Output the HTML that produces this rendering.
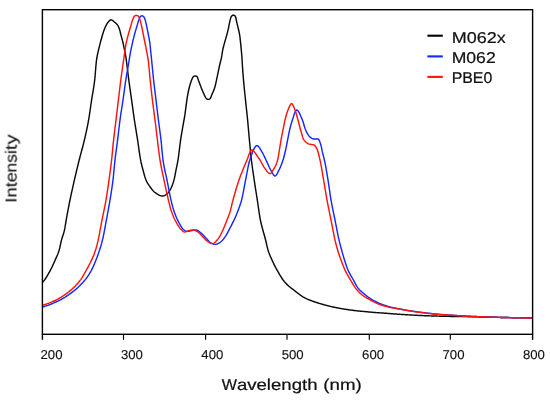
<!DOCTYPE html>
<html><head><meta charset="utf-8"><title>Spectrum</title>
<style>
html,body{margin:0;padding:0;background:#fff;}
body{width:550px;height:400px;overflow:hidden;font-family:"Liberation Sans",sans-serif;}
</style></head><body>
<svg width="550" height="400" viewBox="0 0 550 400" style="display:block;will-change:transform">
<rect width="550" height="400" fill="#fff"/>
<defs><clipPath id="c"><rect x="42.40" y="9.70" width="490.20" height="324.60"/></clipPath></defs>
<g clip-path="url(#c)" fill="none" stroke-width="1.45" stroke-linejoin="round" stroke-linecap="butt">
<path d="M42.40,282.40 L42.90,281.88 L43.40,281.34 L43.90,280.76 L44.40,280.13 L44.90,279.46 L45.40,278.75 L45.90,278.01 L46.40,277.23 L46.90,276.42 L47.40,275.59 L47.90,274.73 L48.40,273.86 L48.90,272.96 L49.40,272.05 L49.90,271.12 L50.40,270.19 L50.90,269.24 L51.40,268.26 L51.90,267.24 L52.40,266.21 L52.90,265.14 L53.40,264.06 L53.90,262.95 L54.40,261.83 L54.90,260.69 L55.40,259.54 L55.90,258.42 L56.40,257.31 L56.90,256.17 L57.40,255.00 L57.90,253.75 L58.40,252.41 L58.90,250.95 L59.40,249.30 L59.90,247.25 L60.40,244.92 L60.90,242.55 L61.40,240.39 L61.90,238.58 L62.40,236.99 L62.90,235.51 L63.40,234.00 L63.90,232.35 L64.40,230.43 L64.90,227.98 L65.40,224.94 L65.90,221.77 L66.40,218.88 L66.90,216.12 L67.40,213.40 L67.90,210.72 L68.40,208.09 L68.90,205.51 L69.40,202.97 L69.90,200.49 L70.40,198.06 L70.90,195.69 L71.40,193.36 L71.90,191.06 L72.40,188.81 L72.90,186.58 L73.40,184.37 L73.90,182.18 L74.40,180.00 L74.90,177.84 L75.40,175.69 L75.90,173.57 L76.40,171.46 L76.90,169.38 L77.40,167.31 L77.90,165.26 L78.40,163.22 L78.90,161.20 L79.40,159.21 L79.90,157.26 L80.40,155.36 L80.90,153.50 L81.40,151.65 L81.90,149.80 L82.40,147.94 L82.90,146.04 L83.40,144.10 L83.90,142.09 L84.40,140.00 L84.90,137.85 L85.40,135.68 L85.90,133.45 L86.40,131.17 L86.90,128.81 L87.40,126.35 L87.90,123.79 L88.40,121.11 L88.90,118.25 L89.40,115.11 L89.90,111.74 L90.40,108.26 L90.90,104.75 L91.40,101.33 L91.90,98.09 L92.40,95.08 L92.90,92.17 L93.40,89.19 L93.90,85.99 L94.40,82.40 L94.90,78.14 L95.40,72.29 L95.90,65.99 L96.40,60.78 L96.90,57.54 L97.40,55.01 L97.90,52.66 L98.40,50.47 L98.90,48.39 L99.40,46.38 L99.90,44.40 L100.40,42.43 L100.90,40.54 L101.40,38.71 L101.90,36.94 L102.40,35.19 L102.90,33.53 L103.40,32.00 L103.90,30.59 L104.40,29.24 L104.90,27.98 L105.40,26.83 L105.90,25.80 L106.40,24.85 L106.90,23.97 L107.40,23.19 L107.90,22.52 L108.40,21.93 L108.90,21.33 L109.40,20.77 L109.90,20.30 L110.40,19.96 L110.90,19.80 L111.40,19.85 L111.90,20.05 L112.40,20.35 L112.90,20.73 L113.40,21.14 L113.90,21.56 L114.40,21.95 L114.90,22.34 L115.40,22.75 L115.90,23.19 L116.40,23.68 L116.90,24.23 L117.40,24.84 L117.90,25.55 L118.40,26.48 L118.90,27.65 L119.40,29.01 L119.90,30.64 L120.40,32.73 L120.90,34.78 L121.40,36.64 L121.90,38.48 L122.40,40.40 L122.90,42.45 L123.40,44.59 L123.90,46.87 L124.40,49.33 L124.90,51.89 L125.40,54.39 L125.90,57.24 L126.40,60.72 L126.90,64.55 L127.40,68.62 L127.90,72.79 L128.40,76.88 L128.90,80.75 L129.40,84.44 L129.90,88.02 L130.40,91.55 L130.90,95.05 L131.40,98.58 L131.90,102.16 L132.40,105.79 L132.90,109.44 L133.40,113.05 L133.90,116.59 L134.40,120.00 L134.90,123.26 L135.40,126.41 L135.90,129.48 L136.40,132.52 L136.90,135.59 L137.40,138.72 L137.90,141.99 L138.40,145.49 L138.90,149.08 L139.40,152.62 L139.90,155.96 L140.40,158.94 L140.90,161.48 L141.40,163.74 L141.90,165.81 L142.40,167.75 L142.90,169.63 L143.40,171.50 L143.90,173.37 L144.40,175.19 L144.90,176.90 L145.40,178.44 L145.90,179.77 L146.40,180.88 L146.90,181.88 L147.40,182.79 L147.90,183.62 L148.40,184.40 L148.90,185.14 L149.40,185.86 L149.90,186.57 L150.40,187.27 L150.90,187.97 L151.40,188.65 L151.90,189.31 L152.40,189.94 L152.90,190.53 L153.40,191.08 L153.90,191.59 L154.40,192.04 L154.90,192.43 L155.40,192.78 L155.90,193.12 L156.40,193.46 L156.90,193.80 L157.40,194.12 L157.90,194.43 L158.40,194.72 L158.90,194.99 L159.40,195.24 L159.90,195.46 L160.40,195.64 L160.90,195.79 L161.40,195.91 L161.90,195.98 L162.40,196.00 L162.90,195.97 L163.40,195.87 L163.90,195.72 L164.40,195.53 L164.90,195.29 L165.40,195.02 L165.90,194.72 L166.40,194.40 L166.90,194.07 L167.40,193.68 L167.90,193.16 L168.40,192.53 L168.90,191.80 L169.40,191.01 L169.90,190.17 L170.40,189.29 L170.90,188.33 L171.40,187.27 L171.90,186.12 L172.40,184.86 L172.90,183.48 L173.40,181.98 L173.90,180.34 L174.40,178.39 L174.90,175.92 L175.40,173.19 L175.90,170.51 L176.40,168.06 L176.90,165.72 L177.40,163.30 L177.90,160.59 L178.40,157.35 L178.90,153.53 L179.40,149.39 L179.90,145.25 L180.40,141.39 L180.90,138.03 L181.40,134.89 L181.90,131.91 L182.40,129.04 L182.90,126.22 L183.40,123.42 L183.90,120.58 L184.40,117.77 L184.90,114.69 L185.40,111.07 L185.90,107.20 L186.40,103.39 L186.90,99.94 L187.40,96.72 L187.90,93.76 L188.40,91.24 L188.90,89.01 L189.40,86.97 L189.90,85.14 L190.40,83.48 L190.90,81.94 L191.40,80.52 L191.90,79.25 L192.40,78.20 L192.90,77.26 L193.40,76.54 L193.90,76.28 L194.40,76.11 L194.90,76.02 L195.40,76.01 L195.90,76.08 L196.40,76.21 L196.90,76.40 L197.40,77.12 L197.90,78.53 L198.40,80.14 L198.90,81.52 L199.40,82.84 L199.90,84.18 L200.40,85.52 L200.90,86.85 L201.40,88.14 L201.90,89.39 L202.40,90.57 L202.90,91.75 L203.40,92.91 L203.90,94.05 L204.40,95.13 L204.90,96.13 L205.40,97.02 L205.90,97.81 L206.40,98.54 L206.90,99.00 L207.40,99.21 L207.90,99.36 L208.40,99.40 L208.90,99.32 L209.40,99.17 L209.90,98.94 L210.40,98.27 L210.90,97.16 L211.40,95.83 L211.90,94.54 L212.40,93.39 L212.90,92.27 L213.40,91.12 L213.90,89.88 L214.40,88.52 L214.90,86.97 L215.40,85.07 L215.90,82.88 L216.40,80.54 L216.90,78.20 L217.40,75.83 L217.90,73.38 L218.40,70.91 L218.90,68.53 L219.40,66.23 L219.90,64.00 L220.40,61.99 L220.90,60.08 L221.40,57.97 L221.90,55.21 L222.40,51.76 L222.90,49.05 L223.40,46.97 L223.90,45.14 L224.40,43.37 L224.90,41.56 L225.40,39.84 L225.90,38.13 L226.40,36.37 L226.90,34.53 L227.40,32.66 L227.90,30.69 L228.40,28.54 L228.90,25.96 L229.40,23.34 L229.90,21.19 L230.40,19.17 L230.90,17.42 L231.40,16.31 L231.90,15.86 L232.40,15.51 L232.90,15.28 L233.40,15.20 L233.90,15.28 L234.40,15.50 L234.90,15.84 L235.40,16.34 L235.90,18.07 L236.40,20.60 L236.90,22.82 L237.40,24.82 L237.90,26.84 L238.40,29.00 L238.90,31.23 L239.40,33.65 L239.90,36.70 L240.40,41.10 L240.90,45.88 L241.40,51.07 L241.90,57.00 L242.40,65.53 L242.90,72.59 L243.40,78.83 L243.90,84.42 L244.40,89.48 L244.90,94.27 L245.40,99.03 L245.90,103.82 L246.40,108.47 L246.90,113.14 L247.40,117.98 L247.90,123.18 L248.40,128.80 L248.90,134.51 L249.40,140.00 L249.90,145.30 L250.40,150.53 L250.90,155.50 L251.40,160.00 L251.90,164.03 L252.40,167.75 L252.90,171.26 L253.40,174.64 L253.90,177.98 L254.40,181.35 L254.90,184.66 L255.40,187.89 L255.90,191.08 L256.40,194.26 L256.90,197.43 L257.40,200.65 L257.90,204.01 L258.40,207.48 L258.90,210.93 L259.40,214.25 L259.90,217.31 L260.40,220.00 L260.90,222.36 L261.40,224.52 L261.90,226.53 L262.40,228.43 L262.90,230.23 L263.40,231.99 L263.90,233.73 L264.40,235.49 L264.90,237.30 L265.40,239.21 L265.90,241.25 L266.40,243.45 L266.90,245.69 L267.40,247.81 L267.90,249.67 L268.40,251.23 L268.90,252.67 L269.40,253.99 L269.90,255.24 L270.40,256.42 L270.90,257.56 L271.40,258.67 L271.90,259.78 L272.40,260.89 L272.90,261.97 L273.40,263.03 L273.90,264.07 L274.40,265.09 L274.90,266.09 L275.40,267.06 L275.90,268.00 L276.40,268.92 L276.90,269.82 L277.40,270.71 L277.90,271.59 L278.40,272.46 L278.90,273.33 L279.40,274.19 L279.90,275.04 L280.40,275.87 L280.90,276.68 L281.40,277.48 L281.90,278.25 L282.40,279.00 L282.90,279.73 L283.40,280.42 L283.90,281.08 L284.40,281.70 L284.90,282.29 L285.40,282.84 L285.90,283.37 L286.40,283.89 L286.90,284.38 L287.40,284.86 L287.90,285.32 L288.40,285.77 L288.90,286.21 L289.40,286.64 L289.90,287.05 L290.40,287.46 L290.90,287.86 L291.40,288.25 L291.90,288.64 L292.40,289.02 L292.90,289.40 L293.40,289.78 L293.90,290.16 L294.40,290.54 L294.90,290.92 L295.40,291.31 L295.90,291.70 L296.40,292.09 L296.90,292.48 L297.40,292.86 L297.90,293.25 L298.40,293.63 L298.90,294.01 L299.40,294.39 L299.90,294.76 L300.40,295.12 L300.90,295.47 L301.40,295.82 L301.90,296.16 L302.40,296.49 L302.90,296.81 L303.40,297.11 L303.90,297.40 L304.40,297.68 L304.90,297.95 L305.40,298.20 L305.90,298.45 L306.40,298.68 L306.90,298.91 L307.40,299.14 L307.90,299.35 L308.40,299.57 L308.90,299.77 L309.40,299.97 L309.90,300.17 L310.40,300.36 L310.90,300.55 L311.40,300.73 L311.90,300.92 L312.40,301.10 L312.90,301.27 L313.40,301.45 L313.90,301.62 L314.40,301.79 L314.90,301.97 L315.40,302.14 L315.90,302.30 L316.40,302.47 L316.90,302.63 L317.40,302.79 L317.90,302.95 L318.40,303.11 L318.90,303.26 L319.40,303.42 L319.90,303.57 L320.40,303.71 L320.90,303.86 L321.40,304.00 L321.90,304.15 L322.40,304.29 L322.90,304.43 L323.40,304.57 L323.90,304.70 L324.40,304.84 L324.90,304.97 L325.40,305.11 L325.90,305.24 L326.40,305.37 L326.90,305.50 L327.40,305.63 L327.90,305.76 L328.40,305.88 L328.90,306.01 L329.40,306.13 L329.90,306.25 L330.40,306.37 L330.90,306.49 L331.40,306.61 L331.90,306.72 L332.40,306.84 L332.90,306.95 L333.40,307.06 L333.90,307.17 L334.40,307.28 L334.90,307.38 L335.40,307.48 L335.90,307.58 L336.40,307.68 L336.90,307.78 L337.40,307.88 L337.90,307.97 L338.40,308.07 L338.90,308.16 L339.40,308.25 L339.90,308.34 L340.40,308.43 L340.90,308.52 L341.40,308.61 L341.90,308.69 L342.40,308.78 L342.90,308.86 L343.40,308.94 L343.90,309.02 L344.40,309.10 L344.90,309.18 L345.40,309.26 L345.90,309.34 L346.40,309.42 L346.90,309.49 L347.40,309.57 L347.90,309.65 L348.40,309.72 L348.90,309.79 L349.40,309.87 L349.90,309.94 L350.40,310.01 L350.90,310.08 L351.40,310.14 L351.90,310.21 L352.40,310.28 L352.90,310.34 L353.40,310.41 L353.90,310.47 L354.40,310.53 L354.90,310.59 L355.40,310.65 L355.90,310.70 L356.40,310.76 L356.90,310.81 L357.40,310.87 L357.90,310.92 L358.40,310.97 L358.90,311.02 L359.40,311.07 L359.90,311.12 L360.40,311.17 L360.90,311.21 L361.40,311.26 L361.90,311.31 L362.40,311.36 L362.90,311.40 L363.40,311.45 L363.90,311.50 L364.40,311.54 L364.90,311.59 L365.40,311.64 L365.90,311.69 L366.40,311.73 L366.90,311.78 L367.40,311.83 L367.90,311.87 L368.40,311.92 L368.90,311.97 L369.40,312.01 L369.90,312.06 L370.40,312.11 L370.90,312.15 L371.40,312.20 L371.90,312.24 L372.40,312.28 L372.90,312.33 L373.40,312.37 L373.90,312.41 L374.40,312.45 L374.90,312.49 L375.40,312.53 L375.90,312.57 L376.40,312.61 L376.90,312.64 L377.40,312.68 L377.90,312.71 L378.40,312.75 L378.90,312.78 L379.40,312.82 L379.90,312.85 L380.40,312.88 L380.90,312.92 L381.40,312.95 L381.90,312.98 L382.40,313.02 L382.90,313.05 L383.40,313.09 L383.90,313.12 L384.40,313.16 L384.90,313.19 L385.40,313.23 L385.90,313.27 L386.40,313.31 L386.90,313.34 L387.40,313.38 L387.90,313.42 L388.40,313.46 L388.90,313.50 L389.40,313.54 L389.90,313.58 L390.40,313.62 L390.90,313.67 L391.40,313.71 L391.90,313.75 L392.40,313.79 L392.90,313.83 L393.40,313.87 L393.90,313.91 L394.40,313.94 L394.90,313.98 L395.40,314.02 L395.90,314.06 L396.40,314.09 L396.90,314.13 L397.40,314.16 L397.90,314.19 L398.40,314.23 L398.90,314.26 L399.40,314.29 L399.90,314.32 L400.40,314.35 L400.90,314.39 L401.40,314.42 L401.90,314.45 L402.40,314.48 L402.90,314.51 L403.40,314.54 L403.90,314.57 L404.40,314.60 L404.90,314.64 L405.40,314.67 L405.90,314.70 L406.40,314.73 L406.90,314.76 L407.40,314.79 L407.90,314.82 L408.40,314.85 L408.90,314.88 L409.40,314.90 L409.90,314.93 L410.40,314.96 L410.90,314.99 L411.40,315.02 L411.90,315.05 L412.40,315.08 L412.90,315.10 L413.40,315.13 L413.90,315.16 L414.40,315.18 L414.90,315.21 L415.40,315.24 L415.90,315.26 L416.40,315.29 L416.90,315.32 L417.40,315.34 L417.90,315.37 L418.40,315.39 L418.90,315.41 L419.40,315.44 L419.90,315.46 L420.40,315.49 L420.90,315.51 L421.40,315.53 L421.90,315.55 L422.40,315.58 L422.90,315.60 L423.40,315.62 L423.90,315.64 L424.40,315.66 L424.90,315.68 L425.40,315.70 L425.90,315.72 L426.40,315.74 L426.90,315.76 L427.40,315.78 L427.90,315.80 L428.40,315.81 L428.90,315.83 L429.40,315.85 L429.90,315.87 L430.40,315.88 L430.90,315.90 L431.40,315.92 L431.90,315.93 L432.40,315.95 L432.90,315.97 L433.40,315.98 L433.90,316.00 L434.40,316.01 L434.90,316.03 L435.40,316.04 L435.90,316.06 L436.40,316.07 L436.90,316.09 L437.40,316.10 L437.90,316.12 L438.40,316.13 L438.90,316.14 L439.40,316.16 L439.90,316.17 L440.40,316.18 L440.90,316.20 L441.40,316.21 L441.90,316.22 L442.40,316.24 L442.90,316.25 L443.40,316.26 L443.90,316.27 L444.40,316.28 L444.90,316.30 L445.40,316.31 L445.90,316.32 L446.40,316.33 L446.90,316.34 L447.40,316.35 L447.90,316.36 L448.40,316.37 L448.90,316.38 L449.40,316.39 L449.90,316.40 L450.40,316.41 L450.90,316.42 L451.40,316.42 L451.90,316.43 L452.40,316.44 L452.90,316.45 L453.40,316.45 L453.90,316.46 L454.40,316.47 L454.90,316.48 L455.40,316.48 L455.90,316.49 L456.40,316.49 L456.90,316.50 L457.40,316.51 L457.90,316.51 L458.40,316.52 L458.90,316.53 L459.40,316.53 L459.90,316.54 L460.40,316.55 L460.90,316.55 L461.40,316.56 L461.90,316.57 L462.40,316.57 L462.90,316.58 L463.40,316.59 L463.90,316.60 L464.40,316.61 L464.90,316.62 L465.40,316.62 L465.90,316.63 L466.40,316.64 L466.90,316.65 L467.40,316.66 L467.90,316.67 L468.40,316.68 L468.90,316.69 L469.40,316.70 L469.90,316.71 L470.40,316.72 L470.90,316.73 L471.40,316.74 L471.90,316.75 L472.40,316.76 L472.90,316.77 L473.40,316.79 L473.90,316.80 L474.40,316.81 L474.90,316.82 L475.40,316.83 L475.90,316.84 L476.40,316.85 L476.90,316.86 L477.40,316.88 L477.90,316.89 L478.40,316.90 L478.90,316.91 L479.40,316.92 L479.90,316.94 L480.40,316.95 L480.90,316.96 L481.40,316.97 L481.90,316.98 L482.40,317.00 L482.90,317.01 L483.40,317.02 L483.90,317.03 L484.40,317.04 L484.90,317.06 L485.40,317.07 L485.90,317.08 L486.40,317.09 L486.90,317.10 L487.40,317.12 L487.90,317.13 L488.40,317.14 L488.90,317.15 L489.40,317.16 L489.90,317.18 L490.40,317.19 L490.90,317.20 L491.40,317.21 L491.90,317.22 L492.40,317.23 L492.90,317.25 L493.40,317.26 L493.90,317.27 L494.40,317.28 L494.90,317.29 L495.40,317.30 L495.90,317.31 L496.40,317.32 L496.90,317.34 L497.40,317.35 L497.90,317.36 L498.40,317.37 L498.90,317.38 L499.40,317.39 L499.90,317.40 L500.40,317.41 L500.90,317.42 L501.40,317.43 L501.90,317.44 L502.40,317.45 L502.90,317.46 L503.40,317.47 L503.90,317.48 L504.40,317.49 L504.90,317.50 L505.40,317.51 L505.90,317.52 L506.40,317.53 L506.90,317.54 L507.40,317.55 L507.90,317.56 L508.40,317.57 L508.90,317.57 L509.40,317.58 L509.90,317.59 L510.40,317.60 L510.90,317.61 L511.40,317.62 L511.90,317.63 L512.40,317.64 L512.90,317.65 L513.40,317.66 L513.90,317.67 L514.40,317.68 L514.90,317.69 L515.40,317.70 L515.90,317.71 L516.40,317.72 L516.90,317.73 L517.40,317.73 L517.90,317.74 L518.40,317.75 L518.90,317.76 L519.40,317.77 L519.90,317.78 L520.40,317.79 L520.90,317.80 L521.40,317.81 L521.90,317.82 L522.40,317.82 L522.90,317.83 L523.40,317.84 L523.90,317.85 L524.40,317.86 L524.90,317.87 L525.40,317.88 L525.90,317.89 L526.40,317.89 L526.90,317.90 L527.40,317.91 L527.90,317.92 L528.40,317.93 L528.90,317.94 L529.40,317.95 L529.90,317.95 L530.40,317.96 L530.90,317.97 L531.40,317.98 L531.90,317.99 L532.40,318.00 L532.60,318.00" stroke="#0a0a0a"/>
<path d="M42.40,307.00 L42.90,306.87 L43.40,306.74 L43.90,306.60 L44.40,306.45 L44.90,306.30 L45.40,306.15 L45.90,305.99 L46.40,305.83 L46.90,305.66 L47.40,305.49 L47.90,305.31 L48.40,305.13 L48.90,304.95 L49.40,304.76 L49.90,304.57 L50.40,304.37 L50.90,304.17 L51.40,303.97 L51.90,303.76 L52.40,303.55 L52.90,303.33 L53.40,303.12 L53.90,302.90 L54.40,302.67 L54.90,302.45 L55.40,302.22 L55.90,301.99 L56.40,301.75 L56.90,301.52 L57.40,301.28 L57.90,301.04 L58.40,300.79 L58.90,300.55 L59.40,300.30 L59.90,300.05 L60.40,299.80 L60.90,299.54 L61.40,299.27 L61.90,299.00 L62.40,298.73 L62.90,298.44 L63.40,298.15 L63.90,297.86 L64.40,297.56 L64.90,297.26 L65.40,296.94 L65.90,296.63 L66.40,296.31 L66.90,295.98 L67.40,295.65 L67.90,295.31 L68.40,294.97 L68.90,294.62 L69.40,294.27 L69.90,293.91 L70.40,293.55 L70.90,293.18 L71.40,292.81 L71.90,292.43 L72.40,292.05 L72.90,291.67 L73.40,291.28 L73.90,290.88 L74.40,290.48 L74.90,290.08 L75.40,289.67 L75.90,289.26 L76.40,288.83 L76.90,288.40 L77.40,287.96 L77.90,287.51 L78.40,287.05 L78.90,286.58 L79.40,286.10 L79.90,285.61 L80.40,285.11 L80.90,284.60 L81.40,284.08 L81.90,283.55 L82.40,283.01 L82.90,282.46 L83.40,281.89 L83.90,281.31 L84.40,280.72 L84.90,280.12 L85.40,279.50 L85.90,278.87 L86.40,278.21 L86.90,277.53 L87.40,276.83 L87.90,276.11 L88.40,275.36 L88.90,274.59 L89.40,273.80 L89.90,272.98 L90.40,272.13 L90.90,271.26 L91.40,270.37 L91.90,269.43 L92.40,268.44 L92.90,267.39 L93.40,266.28 L93.90,265.13 L94.40,263.95 L94.90,262.73 L95.40,261.50 L95.90,260.25 L96.40,258.99 L96.90,257.69 L97.40,256.36 L97.90,254.98 L98.40,253.57 L98.90,252.12 L99.40,250.61 L99.90,249.07 L100.40,247.49 L100.90,245.86 L101.40,244.16 L101.90,242.34 L102.40,240.41 L102.90,238.29 L103.40,235.97 L103.90,233.49 L104.40,230.88 L104.90,228.18 L105.40,225.44 L105.90,222.70 L106.40,220.00 L106.90,217.33 L107.40,214.66 L107.90,211.97 L108.40,209.23 L108.90,206.44 L109.40,203.57 L109.90,200.61 L110.40,197.58 L110.90,194.53 L111.40,191.40 L111.90,188.12 L112.40,184.61 L112.90,180.80 L113.40,176.40 L113.90,171.24 L114.40,165.87 L114.90,160.90 L115.40,156.64 L115.90,152.74 L116.40,149.03 L116.90,145.36 L117.40,141.58 L117.90,137.55 L118.40,133.29 L118.90,128.97 L119.40,124.73 L119.90,120.75 L120.40,117.11 L120.90,113.70 L121.40,110.44 L121.90,107.24 L122.40,104.02 L122.90,100.69 L123.40,97.18 L123.90,93.54 L124.40,89.85 L124.90,86.20 L125.40,82.67 L125.90,79.36 L126.40,76.27 L126.90,73.34 L127.40,70.51 L127.90,67.69 L128.40,64.84 L128.90,61.87 L129.40,58.66 L129.90,55.42 L130.40,52.64 L130.90,50.07 L131.40,47.65 L131.90,45.35 L132.40,43.11 L132.90,40.96 L133.40,38.89 L133.90,36.89 L134.40,34.96 L134.90,33.09 L135.40,31.29 L135.90,29.59 L136.40,27.96 L136.90,26.33 L137.40,24.62 L137.90,22.86 L138.40,21.18 L138.90,19.73 L139.40,18.36 L139.90,17.23 L140.40,16.60 L140.90,16.17 L141.40,15.88 L141.90,15.80 L142.40,15.91 L142.90,16.14 L143.40,16.45 L143.90,16.93 L144.40,17.88 L144.90,19.15 L145.40,20.64 L145.90,22.69 L146.40,25.06 L146.90,27.44 L147.40,29.97 L147.90,32.50 L148.40,34.93 L148.90,37.46 L149.40,40.16 L149.90,43.26 L150.40,47.90 L150.90,53.00 L151.40,58.00 L151.90,63.03 L152.40,68.17 L152.90,73.26 L153.40,78.14 L153.90,82.68 L154.40,86.94 L154.90,91.05 L155.40,95.09 L155.90,99.17 L156.40,103.35 L156.90,107.57 L157.40,111.78 L157.90,115.94 L158.40,120.00 L158.90,123.87 L159.40,127.56 L159.90,131.24 L160.40,135.04 L160.90,139.13 L161.40,143.88 L161.90,149.34 L162.40,154.75 L162.90,159.27 L163.40,162.62 L163.90,165.54 L164.40,168.14 L164.90,170.51 L165.40,172.74 L165.90,174.92 L166.40,177.15 L166.90,179.50 L167.40,182.02 L167.90,184.61 L168.40,187.22 L168.90,189.83 L169.40,192.40 L169.90,194.90 L170.40,197.30 L170.90,199.57 L171.40,201.71 L171.90,203.80 L172.40,205.79 L172.90,207.66 L173.40,209.37 L173.90,210.91 L174.40,212.36 L174.90,213.75 L175.40,215.06 L175.90,216.29 L176.40,217.46 L176.90,218.57 L177.40,219.60 L177.90,220.59 L178.40,221.57 L178.90,222.54 L179.40,223.50 L179.90,224.44 L180.40,225.34 L180.90,226.19 L181.40,227.00 L181.90,227.74 L182.40,228.42 L182.90,229.01 L183.40,229.52 L183.90,229.93 L184.40,230.27 L184.90,230.60 L185.40,230.90 L185.90,231.15 L186.40,231.32 L186.90,231.40 L187.40,231.39 L187.90,231.34 L188.40,231.27 L188.90,231.17 L189.40,231.06 L189.90,230.95 L190.40,230.83 L190.90,230.71 L191.40,230.60 L191.90,230.52 L192.40,230.44 L192.90,230.36 L193.40,230.27 L193.90,230.19 L194.40,230.12 L194.90,230.06 L195.40,230.02 L195.90,230.00 L196.40,230.03 L196.90,230.16 L197.40,230.36 L197.90,230.63 L198.40,230.96 L198.90,231.33 L199.40,231.72 L199.90,232.13 L200.40,232.53 L200.90,232.92 L201.40,233.32 L201.90,233.75 L202.40,234.22 L202.90,234.72 L203.40,235.24 L203.90,235.77 L204.40,236.31 L204.90,236.85 L205.40,237.38 L205.90,237.90 L206.40,238.41 L206.90,238.97 L207.40,239.54 L207.90,240.12 L208.40,240.69 L208.90,241.25 L209.40,241.76 L209.90,242.23 L210.40,242.63 L210.90,242.95 L211.40,243.20 L211.90,243.46 L212.40,243.70 L212.90,243.91 L213.40,244.10 L213.90,244.25 L214.40,244.35 L214.90,244.40 L215.40,244.38 L215.90,244.31 L216.40,244.18 L216.90,244.01 L217.40,243.81 L217.90,243.57 L218.40,243.32 L218.90,243.04 L219.40,242.75 L219.90,242.46 L220.40,242.14 L220.90,241.76 L221.40,241.32 L221.90,240.83 L222.40,240.29 L222.90,239.71 L223.40,239.10 L223.90,238.46 L224.40,237.80 L224.90,237.13 L225.40,236.44 L225.90,235.66 L226.40,234.83 L226.90,233.95 L227.40,233.03 L227.90,232.08 L228.40,231.11 L228.90,230.13 L229.40,229.15 L229.90,228.19 L230.40,227.24 L230.90,226.29 L231.40,225.34 L231.90,224.38 L232.40,223.41 L232.90,222.42 L233.40,221.41 L233.90,220.37 L234.40,219.31 L234.90,218.22 L235.40,217.10 L235.90,215.94 L236.40,214.75 L236.90,213.52 L237.40,212.26 L237.90,210.97 L238.40,209.64 L238.90,208.28 L239.40,206.89 L239.90,205.48 L240.40,204.01 L240.90,202.45 L241.40,200.73 L241.90,198.82 L242.40,196.63 L242.90,194.21 L243.40,191.63 L243.90,188.95 L244.40,186.24 L244.90,183.57 L245.40,180.99 L245.90,178.50 L246.40,175.90 L246.90,173.23 L247.40,170.55 L247.90,167.94 L248.40,165.49 L248.90,163.25 L249.40,161.30 L249.90,159.71 L250.40,158.24 L250.90,156.79 L251.40,155.35 L251.90,153.96 L252.40,152.62 L252.90,151.35 L253.40,150.17 L253.90,149.09 L254.40,148.12 L254.90,147.29 L255.40,146.61 L255.90,146.09 L256.40,145.75 L256.90,145.60 L257.40,145.67 L257.90,145.94 L258.40,146.38 L258.90,146.97 L259.40,147.67 L259.90,148.45 L260.40,149.29 L260.90,150.15 L261.40,151.01 L261.90,151.84 L262.40,152.66 L262.90,153.56 L263.40,154.53 L263.90,155.55 L264.40,156.61 L264.90,157.68 L265.40,158.75 L265.90,159.79 L266.40,160.84 L266.90,161.92 L267.40,163.03 L267.90,164.15 L268.40,165.28 L268.90,166.38 L269.40,167.46 L269.90,168.48 L270.40,169.45 L270.90,170.33 L271.40,171.19 L271.90,172.10 L272.40,173.03 L272.90,173.91 L273.40,174.70 L273.90,175.34 L274.40,175.79 L274.90,175.99 L275.40,175.90 L275.90,175.52 L276.40,174.91 L276.90,174.11 L277.40,173.19 L277.90,172.20 L278.40,171.18 L278.90,170.19 L279.40,169.22 L279.90,168.18 L280.40,167.05 L280.90,165.85 L281.40,164.57 L281.90,163.22 L282.40,161.80 L282.90,160.31 L283.40,158.71 L283.90,156.94 L284.40,155.03 L284.90,153.00 L285.40,150.87 L285.90,148.64 L286.40,146.18 L286.90,143.60 L287.40,141.01 L287.90,138.47 L288.40,135.85 L288.90,133.27 L289.40,130.87 L289.90,128.76 L290.40,126.77 L290.90,124.90 L291.40,123.15 L291.90,121.51 L292.40,120.00 L292.90,118.48 L293.40,116.89 L293.90,115.29 L294.40,113.77 L294.90,112.40 L295.40,111.27 L295.90,110.46 L296.40,110.04 L296.90,110.04 L297.40,110.30 L297.90,110.77 L298.40,111.41 L298.90,112.21 L299.40,113.14 L299.90,114.18 L300.40,115.29 L300.90,116.45 L301.40,117.65 L301.90,118.84 L302.40,120.00 L302.90,121.33 L303.40,122.94 L303.90,124.70 L304.40,126.47 L304.90,128.13 L305.40,129.54 L305.90,130.64 L306.40,131.67 L306.90,132.65 L307.40,133.58 L307.90,134.43 L308.40,135.20 L308.90,135.88 L309.40,136.46 L309.90,136.92 L310.40,137.30 L310.90,137.67 L311.40,138.01 L311.90,138.32 L312.40,138.59 L312.90,138.79 L313.40,138.94 L313.90,139.00 L314.40,139.00 L314.90,139.00 L315.40,139.00 L315.90,139.00 L316.40,139.00 L316.90,139.00 L317.40,139.00 L317.90,139.00 L318.40,139.18 L318.90,139.82 L319.40,140.83 L319.90,142.08 L320.40,143.45 L320.90,144.99 L321.40,147.18 L321.90,149.67 L322.40,152.00 L322.90,154.01 L323.40,155.91 L323.90,157.86 L324.40,160.00 L324.90,162.38 L325.40,164.94 L325.90,167.65 L326.40,170.47 L326.90,173.38 L327.40,176.37 L327.90,179.39 L328.40,182.53 L328.90,185.91 L329.40,189.42 L329.90,192.92 L330.40,196.29 L330.90,199.42 L331.40,202.24 L331.90,204.91 L332.40,207.45 L332.90,209.89 L333.40,212.29 L333.90,214.67 L334.40,217.06 L334.90,219.50 L335.40,222.02 L335.90,224.61 L336.40,227.22 L336.90,229.83 L337.40,232.40 L337.90,234.90 L338.40,237.30 L338.90,239.57 L339.40,241.68 L339.90,243.68 L340.40,245.59 L340.90,247.45 L341.40,249.27 L341.90,251.09 L342.40,252.89 L342.90,254.66 L343.40,256.39 L343.90,258.07 L344.40,259.69 L344.90,261.25 L345.40,262.81 L345.90,264.33 L346.40,265.81 L346.90,267.22 L347.40,268.55 L347.90,269.77 L348.40,270.89 L348.90,271.94 L349.40,272.94 L349.90,273.89 L350.40,274.80 L350.90,275.68 L351.40,276.54 L351.90,277.40 L352.40,278.25 L352.90,279.12 L353.40,280.00 L353.90,280.91 L354.40,281.86 L354.90,282.81 L355.40,283.75 L355.90,284.68 L356.40,285.57 L356.90,286.41 L357.40,287.18 L357.90,287.87 L358.40,288.49 L358.90,289.07 L359.40,289.62 L359.90,290.15 L360.40,290.65 L360.90,291.13 L361.40,291.59 L361.90,292.04 L362.40,292.47 L362.90,292.89 L363.40,293.30 L363.90,293.71 L364.40,294.11 L364.90,294.52 L365.40,294.92 L365.90,295.32 L366.40,295.72 L366.90,296.10 L367.40,296.48 L367.90,296.86 L368.40,297.22 L368.90,297.58 L369.40,297.93 L369.90,298.27 L370.40,298.60 L370.90,298.93 L371.40,299.24 L371.90,299.54 L372.40,299.83 L372.90,300.12 L373.40,300.41 L373.90,300.68 L374.40,300.96 L374.90,301.22 L375.40,301.48 L375.90,301.74 L376.40,301.99 L376.90,302.23 L377.40,302.47 L377.90,302.70 L378.40,302.92 L378.90,303.14 L379.40,303.35 L379.90,303.56 L380.40,303.76 L380.90,303.96 L381.40,304.15 L381.90,304.34 L382.40,304.52 L382.90,304.70 L383.40,304.88 L383.90,305.06 L384.40,305.23 L384.90,305.40 L385.40,305.56 L385.90,305.72 L386.40,305.88 L386.90,306.03 L387.40,306.18 L387.90,306.33 L388.40,306.47 L388.90,306.61 L389.40,306.74 L389.90,306.87 L390.40,307.00 L390.90,307.12 L391.40,307.25 L391.90,307.36 L392.40,307.48 L392.90,307.59 L393.40,307.70 L393.90,307.80 L394.40,307.91 L394.90,308.01 L395.40,308.11 L395.90,308.21 L396.40,308.31 L396.90,308.40 L397.40,308.50 L397.90,308.60 L398.40,308.69 L398.90,308.79 L399.40,308.88 L399.90,308.98 L400.40,309.08 L400.90,309.17 L401.40,309.27 L401.90,309.37 L402.40,309.46 L402.90,309.56 L403.40,309.65 L403.90,309.74 L404.40,309.84 L404.90,309.93 L405.40,310.02 L405.90,310.11 L406.40,310.20 L406.90,310.28 L407.40,310.37 L407.90,310.46 L408.40,310.54 L408.90,310.62 L409.40,310.70 L409.90,310.78 L410.40,310.86 L410.90,310.94 L411.40,311.02 L411.90,311.09 L412.40,311.16 L412.90,311.24 L413.40,311.31 L413.90,311.38 L414.40,311.45 L414.90,311.52 L415.40,311.59 L415.90,311.66 L416.40,311.73 L416.90,311.79 L417.40,311.86 L417.90,311.93 L418.40,311.99 L418.90,312.06 L419.40,312.12 L419.90,312.19 L420.40,312.25 L420.90,312.32 L421.40,312.38 L421.90,312.44 L422.40,312.51 L422.90,312.57 L423.40,312.63 L423.90,312.69 L424.40,312.75 L424.90,312.81 L425.40,312.87 L425.90,312.93 L426.40,312.99 L426.90,313.05 L427.40,313.11 L427.90,313.17 L428.40,313.22 L428.90,313.28 L429.40,313.33 L429.90,313.39 L430.40,313.44 L430.90,313.50 L431.40,313.55 L431.90,313.61 L432.40,313.66 L432.90,313.71 L433.40,313.77 L433.90,313.82 L434.40,313.87 L434.90,313.92 L435.40,313.97 L435.90,314.02 L436.40,314.07 L436.90,314.12 L437.40,314.17 L437.90,314.22 L438.40,314.26 L438.90,314.31 L439.40,314.35 L439.90,314.39 L440.40,314.43 L440.90,314.47 L441.40,314.51 L441.90,314.55 L442.40,314.59 L442.90,314.62 L443.40,314.66 L443.90,314.69 L444.40,314.73 L444.90,314.76 L445.40,314.80 L445.90,314.83 L446.40,314.86 L446.90,314.90 L447.40,314.93 L447.90,314.96 L448.40,314.99 L448.90,315.03 L449.40,315.06 L449.90,315.09 L450.40,315.13 L450.90,315.16 L451.40,315.20 L451.90,315.23 L452.40,315.26 L452.90,315.30 L453.40,315.33 L453.90,315.37 L454.40,315.40 L454.90,315.44 L455.40,315.47 L455.90,315.51 L456.40,315.54 L456.90,315.57 L457.40,315.61 L457.90,315.64 L458.40,315.67 L458.90,315.70 L459.40,315.74 L459.90,315.77 L460.40,315.80 L460.90,315.83 L461.40,315.86 L461.90,315.89 L462.40,315.92 L462.90,315.94 L463.40,315.97 L463.90,315.99 L464.40,316.02 L464.90,316.05 L465.40,316.07 L465.90,316.09 L466.40,316.12 L466.90,316.14 L467.40,316.17 L467.90,316.19 L468.40,316.22 L468.90,316.24 L469.40,316.26 L469.90,316.29 L470.40,316.31 L470.90,316.33 L471.40,316.36 L471.90,316.38 L472.40,316.40 L472.90,316.43 L473.40,316.45 L473.90,316.47 L474.40,316.49 L474.90,316.52 L475.40,316.54 L475.90,316.56 L476.40,316.58 L476.90,316.60 L477.40,316.63 L477.90,316.65 L478.40,316.67 L478.90,316.69 L479.40,316.71 L479.90,316.73 L480.40,316.75 L480.90,316.77 L481.40,316.79 L481.90,316.81 L482.40,316.83 L482.90,316.85 L483.40,316.87 L483.90,316.89 L484.40,316.91 L484.90,316.93 L485.40,316.94 L485.90,316.96 L486.40,316.98 L486.90,317.00 L487.40,317.02 L487.90,317.04 L488.40,317.05 L488.90,317.07 L489.40,317.09 L489.90,317.10 L490.40,317.12 L490.90,317.14 L491.40,317.15 L491.90,317.17 L492.40,317.19 L492.90,317.20 L493.40,317.22 L493.90,317.23 L494.40,317.25 L494.90,317.26 L495.40,317.28 L495.90,317.29 L496.40,317.30 L496.90,317.32 L497.40,317.33 L497.90,317.35 L498.40,317.36 L498.90,317.37 L499.40,317.38 L499.90,317.40 L500.40,317.41 L500.90,317.42 L501.40,317.43 L501.90,317.45 L502.40,317.46 L502.90,317.47 L503.40,317.48 L503.90,317.50 L504.40,317.51 L504.90,317.52 L505.40,317.53 L505.90,317.54 L506.40,317.55 L506.90,317.57 L507.40,317.58 L507.90,317.59 L508.40,317.60 L508.90,317.61 L509.40,317.62 L509.90,317.63 L510.40,317.64 L510.90,317.66 L511.40,317.67 L511.90,317.68 L512.40,317.69 L512.90,317.70 L513.40,317.71 L513.90,317.72 L514.40,317.73 L514.90,317.74 L515.40,317.75 L515.90,317.76 L516.40,317.77 L516.90,317.78 L517.40,317.79 L517.90,317.80 L518.40,317.81 L518.90,317.81 L519.40,317.82 L519.90,317.83 L520.40,317.84 L520.90,317.85 L521.40,317.86 L521.90,317.87 L522.40,317.87 L522.90,317.88 L523.40,317.89 L523.90,317.90 L524.40,317.90 L524.90,317.91 L525.40,317.92 L525.90,317.92 L526.40,317.93 L526.90,317.94 L527.40,317.94 L527.90,317.95 L528.40,317.96 L528.90,317.96 L529.40,317.97 L529.90,317.97 L530.40,317.98 L530.90,317.98 L531.40,317.99 L531.90,317.99 L532.40,318.00 L532.60,318.00" stroke="#1428ff"/>
<path d="M42.40,305.20 L42.90,305.07 L43.40,304.94 L43.90,304.80 L44.40,304.66 L44.90,304.51 L45.40,304.35 L45.90,304.19 L46.40,304.02 L46.90,303.85 L47.40,303.68 L47.90,303.50 L48.40,303.31 L48.90,303.12 L49.40,302.92 L49.90,302.72 L50.40,302.52 L50.90,302.31 L51.40,302.10 L51.90,301.89 L52.40,301.67 L52.90,301.45 L53.40,301.22 L53.90,300.99 L54.40,300.76 L54.90,300.53 L55.40,300.29 L55.90,300.05 L56.40,299.80 L56.90,299.55 L57.40,299.30 L57.90,299.03 L58.40,298.76 L58.90,298.49 L59.40,298.21 L59.90,297.92 L60.40,297.62 L60.90,297.32 L61.40,297.01 L61.90,296.70 L62.40,296.38 L62.90,296.06 L63.40,295.72 L63.90,295.39 L64.40,295.04 L64.90,294.70 L65.40,294.34 L65.90,293.98 L66.40,293.62 L66.90,293.25 L67.40,292.87 L67.90,292.49 L68.40,292.10 L68.90,291.71 L69.40,291.31 L69.90,290.91 L70.40,290.50 L70.90,290.08 L71.40,289.66 L71.90,289.23 L72.40,288.79 L72.90,288.33 L73.40,287.87 L73.90,287.39 L74.40,286.90 L74.90,286.40 L75.40,285.89 L75.90,285.36 L76.40,284.82 L76.90,284.26 L77.40,283.70 L77.90,283.12 L78.40,282.52 L78.90,281.91 L79.40,281.29 L79.90,280.65 L80.40,280.00 L80.90,279.32 L81.40,278.59 L81.90,277.83 L82.40,277.03 L82.90,276.20 L83.40,275.35 L83.90,274.48 L84.40,273.60 L84.90,272.70 L85.40,271.80 L85.90,270.90 L86.40,270.00 L86.90,269.10 L87.40,268.21 L87.90,267.30 L88.40,266.38 L88.90,265.45 L89.40,264.50 L89.90,263.52 L90.40,262.52 L90.90,261.50 L91.40,260.43 L91.90,259.34 L92.40,258.23 L92.90,257.10 L93.40,255.93 L93.90,254.70 L94.40,253.42 L94.90,252.06 L95.40,250.61 L95.90,249.04 L96.40,247.31 L96.90,245.43 L97.40,243.42 L97.90,241.31 L98.40,239.10 L98.90,236.70 L99.40,234.13 L99.90,231.44 L100.40,228.69 L100.90,225.91 L101.40,223.17 L101.90,220.52 L102.40,217.99 L102.90,215.55 L103.40,213.16 L103.90,210.79 L104.40,208.38 L104.90,205.91 L105.40,203.32 L105.90,200.57 L106.40,197.63 L106.90,194.50 L107.40,191.20 L107.90,187.78 L108.40,184.28 L108.90,180.72 L109.40,177.13 L109.90,173.50 L110.40,169.76 L110.90,165.85 L111.40,161.73 L111.90,157.24 L112.40,152.19 L112.90,146.94 L113.40,141.88 L113.90,137.32 L114.40,133.06 L114.90,128.95 L115.40,124.91 L115.90,120.83 L116.40,116.67 L116.90,112.50 L117.40,108.33 L117.90,104.17 L118.40,100.00 L118.90,95.78 L119.40,91.51 L119.90,87.28 L120.40,83.16 L120.90,79.23 L121.40,75.48 L121.90,71.84 L122.40,68.29 L122.90,64.81 L123.40,61.37 L123.90,57.99 L124.40,54.64 L124.90,51.07 L125.40,47.58 L125.90,44.53 L126.40,42.05 L126.90,39.84 L127.40,37.82 L127.90,35.94 L128.40,34.14 L128.90,32.36 L129.40,30.60 L129.90,28.94 L130.40,27.31 L130.90,25.66 L131.40,23.90 L131.90,22.14 L132.40,20.55 L132.90,19.21 L133.40,17.91 L133.90,16.83 L134.40,16.20 L134.90,15.88 L135.40,15.63 L135.90,15.46 L136.40,15.40 L136.90,15.45 L137.40,15.60 L137.90,15.83 L138.40,16.13 L138.90,16.78 L139.40,18.11 L139.90,19.69 L140.40,21.29 L140.90,23.12 L141.40,25.15 L141.90,27.38 L142.40,29.94 L142.90,32.50 L143.40,35.00 L143.90,37.50 L144.40,40.00 L144.90,42.50 L145.40,44.99 L145.90,47.46 L146.40,50.00 L146.90,52.68 L147.40,55.44 L147.90,58.15 L148.40,61.53 L148.90,66.28 L149.40,71.71 L149.90,77.02 L150.40,81.83 L150.90,86.56 L151.40,91.20 L151.90,95.70 L152.40,100.00 L152.90,104.04 L153.40,107.88 L153.90,111.61 L154.40,115.35 L154.90,119.20 L155.40,123.26 L155.90,127.45 L156.40,131.70 L156.90,135.91 L157.40,140.00 L157.90,144.07 L158.40,148.17 L158.90,152.19 L159.40,155.96 L159.90,159.37 L160.40,162.38 L160.90,165.16 L161.40,167.76 L161.90,170.21 L162.40,172.58 L162.90,174.89 L163.40,177.19 L163.90,179.53 L164.40,181.90 L164.90,184.28 L165.40,186.63 L165.90,188.96 L166.40,191.26 L166.90,193.52 L167.40,195.74 L167.90,197.90 L168.40,200.00 L168.90,202.08 L169.40,204.14 L169.90,206.13 L170.40,208.00 L170.90,209.69 L171.40,211.21 L171.90,212.65 L172.40,214.02 L172.90,215.32 L173.40,216.55 L173.90,217.71 L174.40,218.79 L174.90,219.81 L175.40,220.76 L175.90,221.70 L176.40,222.62 L176.90,223.50 L177.40,224.36 L177.90,225.19 L178.40,225.98 L178.90,226.73 L179.40,227.44 L179.90,228.11 L180.40,228.73 L180.90,229.30 L181.40,229.81 L181.90,230.29 L182.40,230.77 L182.90,231.24 L183.40,231.63 L183.90,231.90 L184.40,232.00 L184.90,231.96 L185.40,231.86 L185.90,231.72 L186.40,231.53 L186.90,231.33 L187.40,231.13 L187.90,230.93 L188.40,230.76 L188.90,230.62 L189.40,230.52 L189.90,230.41 L190.40,230.31 L190.90,230.22 L191.40,230.13 L191.90,230.07 L192.40,230.02 L192.90,230.00 L193.40,230.02 L193.90,230.10 L194.40,230.22 L194.90,230.39 L195.40,230.60 L195.90,230.83 L196.40,231.09 L196.90,231.37 L197.40,231.66 L197.90,231.94 L198.40,232.26 L198.90,232.65 L199.40,233.10 L199.90,233.61 L200.40,234.15 L200.90,234.71 L201.40,235.28 L201.90,235.85 L202.40,236.39 L202.90,236.90 L203.40,237.39 L203.90,237.89 L204.40,238.40 L204.90,238.92 L205.40,239.42 L205.90,239.91 L206.40,240.38 L206.90,240.81 L207.40,241.20 L207.90,241.54 L208.40,241.85 L208.90,242.16 L209.40,242.47 L209.90,242.77 L210.40,243.04 L210.90,243.26 L211.40,243.44 L211.90,243.56 L212.40,243.60 L212.90,243.54 L213.40,243.38 L213.90,243.12 L214.40,242.78 L214.90,242.37 L215.40,241.91 L215.90,241.39 L216.40,240.84 L216.90,240.27 L217.40,239.69 L217.90,239.11 L218.40,238.51 L218.90,237.80 L219.40,236.99 L219.90,236.12 L220.40,235.19 L220.90,234.21 L221.40,233.21 L221.90,232.20 L222.40,231.18 L222.90,230.09 L223.40,228.96 L223.90,227.78 L224.40,226.57 L224.90,225.34 L225.40,224.08 L225.90,222.81 L226.40,221.53 L226.90,220.25 L227.40,219.00 L227.90,217.76 L228.40,216.50 L228.90,215.20 L229.40,213.82 L229.90,212.32 L230.40,210.63 L230.90,208.69 L231.40,206.60 L231.90,204.46 L232.40,202.35 L232.90,200.37 L233.40,198.54 L233.90,196.73 L234.40,194.94 L234.90,193.18 L235.40,191.44 L235.90,189.74 L236.40,188.07 L236.90,186.43 L237.40,184.83 L237.90,183.28 L238.40,181.76 L238.90,180.29 L239.40,178.86 L239.90,177.47 L240.40,176.10 L240.90,174.77 L241.40,173.46 L241.90,172.18 L242.40,170.92 L242.90,169.68 L243.40,168.46 L243.90,167.25 L244.40,166.06 L244.90,164.88 L245.40,163.71 L245.90,162.55 L246.40,161.39 L246.90,160.23 L247.40,159.02 L247.90,157.66 L248.40,156.22 L248.90,154.78 L249.40,153.41 L249.90,152.17 L250.40,151.15 L250.90,150.42 L251.40,150.04 L251.90,150.03 L252.40,150.19 L252.90,150.48 L253.40,150.88 L253.90,151.37 L254.40,151.95 L254.90,152.59 L255.40,153.28 L255.90,154.00 L256.40,154.74 L256.90,155.47 L257.40,156.19 L257.90,156.87 L258.40,157.54 L258.90,158.28 L259.40,159.05 L259.90,159.84 L260.40,160.65 L260.90,161.51 L261.40,162.41 L261.90,163.33 L262.40,164.26 L262.90,165.17 L263.40,166.05 L263.90,166.89 L264.40,167.67 L264.90,168.37 L265.40,169.02 L265.90,169.71 L266.40,170.40 L266.90,171.08 L267.40,171.72 L267.90,172.31 L268.40,172.81 L268.90,173.21 L269.40,173.48 L269.90,173.60 L270.40,173.52 L270.90,173.20 L271.40,172.69 L271.90,172.03 L272.40,171.25 L272.90,170.41 L273.40,169.53 L273.90,168.67 L274.40,167.82 L274.90,166.91 L275.40,165.93 L275.90,164.83 L276.40,163.61 L276.90,162.23 L277.40,160.68 L277.90,158.78 L278.40,156.14 L278.90,153.07 L279.40,150.00 L279.90,146.89 L280.40,143.64 L280.90,140.57 L281.40,137.85 L281.90,135.34 L282.40,132.93 L282.90,130.50 L283.40,127.94 L283.90,125.29 L284.40,122.72 L284.90,120.41 L285.40,118.40 L285.90,116.49 L286.40,114.70 L286.90,113.04 L287.40,111.55 L287.90,110.24 L288.40,109.04 L288.90,107.82 L289.40,106.63 L289.90,105.54 L290.40,104.64 L290.90,103.98 L291.40,103.63 L291.90,103.68 L292.40,104.15 L292.90,104.95 L293.40,106.00 L293.90,107.21 L294.40,108.49 L294.90,109.76 L295.40,111.05 L295.90,112.55 L296.40,114.22 L296.90,115.99 L297.40,117.82 L297.90,119.64 L298.40,121.49 L298.90,123.46 L299.40,125.48 L299.90,127.45 L300.40,129.31 L300.90,131.02 L301.40,132.78 L301.90,134.53 L302.40,136.19 L302.90,137.69 L303.40,138.94 L303.90,139.86 L304.40,140.51 L304.90,141.09 L305.40,141.62 L305.90,142.10 L306.40,142.54 L306.90,142.92 L307.40,143.25 L307.90,143.54 L308.40,143.78 L308.90,143.97 L309.40,144.12 L309.90,144.23 L310.40,144.32 L310.90,144.39 L311.40,144.46 L311.90,144.52 L312.40,144.60 L312.90,144.69 L313.40,144.81 L313.90,144.96 L314.40,145.22 L314.90,145.66 L315.40,146.27 L315.90,147.01 L316.40,147.87 L316.90,148.81 L317.40,149.92 L317.90,151.41 L318.40,153.20 L318.90,155.21 L319.40,157.36 L319.90,159.56 L320.40,161.85 L320.90,164.38 L321.40,167.12 L321.90,169.99 L322.40,172.94 L322.90,175.91 L323.40,178.85 L323.90,181.73 L324.40,184.69 L324.90,187.71 L325.40,190.73 L325.90,193.72 L326.40,196.65 L326.90,199.46 L327.40,202.14 L327.90,204.73 L328.40,207.25 L328.90,209.72 L329.40,212.16 L329.90,214.59 L330.40,217.03 L330.90,219.50 L331.40,222.02 L331.90,224.61 L332.40,227.22 L332.90,229.83 L333.40,232.40 L333.90,234.90 L334.40,237.30 L334.90,239.57 L335.40,241.70 L335.90,243.74 L336.40,245.69 L336.90,247.56 L337.40,249.32 L337.90,250.99 L338.40,252.58 L338.90,254.10 L339.40,255.56 L339.90,256.98 L340.40,258.37 L340.90,259.73 L341.40,261.08 L341.90,262.42 L342.40,263.74 L342.90,265.04 L343.40,266.30 L343.90,267.51 L344.40,268.68 L344.90,269.79 L345.40,270.84 L345.90,271.85 L346.40,272.82 L346.90,273.76 L347.40,274.68 L347.90,275.57 L348.40,276.44 L348.90,277.30 L349.40,278.15 L349.90,278.99 L350.40,279.83 L350.90,280.67 L351.40,281.52 L351.90,282.36 L352.40,283.20 L352.90,284.03 L353.40,284.84 L353.90,285.63 L354.40,286.39 L354.90,287.12 L355.40,287.82 L355.90,288.47 L356.40,289.09 L356.90,289.70 L357.40,290.28 L357.90,290.85 L358.40,291.41 L358.90,291.94 L359.40,292.46 L359.90,292.95 L360.40,293.42 L360.90,293.88 L361.40,294.31 L361.90,294.72 L362.40,295.11 L362.90,295.49 L363.40,295.85 L363.90,296.20 L364.40,296.53 L364.90,296.86 L365.40,297.17 L365.90,297.48 L366.40,297.78 L366.90,298.07 L367.40,298.36 L367.90,298.64 L368.40,298.92 L368.90,299.20 L369.40,299.47 L369.90,299.75 L370.40,300.02 L370.90,300.29 L371.40,300.56 L371.90,300.83 L372.40,301.10 L372.90,301.36 L373.40,301.63 L373.90,301.88 L374.40,302.14 L374.90,302.39 L375.40,302.64 L375.90,302.88 L376.40,303.11 L376.90,303.34 L377.40,303.56 L377.90,303.78 L378.40,303.99 L378.90,304.19 L379.40,304.38 L379.90,304.56 L380.40,304.74 L380.90,304.91 L381.40,305.08 L381.90,305.24 L382.40,305.40 L382.90,305.56 L383.40,305.71 L383.90,305.86 L384.40,306.00 L384.90,306.14 L385.40,306.28 L385.90,306.41 L386.40,306.54 L386.90,306.67 L387.40,306.80 L387.90,306.92 L388.40,307.04 L388.90,307.15 L389.40,307.27 L389.90,307.38 L390.40,307.49 L390.90,307.59 L391.40,307.69 L391.90,307.79 L392.40,307.89 L392.90,307.98 L393.40,308.07 L393.90,308.16 L394.40,308.25 L394.90,308.33 L395.40,308.42 L395.90,308.50 L396.40,308.58 L396.90,308.67 L397.40,308.75 L397.90,308.84 L398.40,308.92 L398.90,309.01 L399.40,309.09 L399.90,309.18 L400.40,309.27 L400.90,309.36 L401.40,309.46 L401.90,309.55 L402.40,309.64 L402.90,309.74 L403.40,309.83 L403.90,309.92 L404.40,310.02 L404.90,310.11 L405.40,310.20 L405.90,310.29 L406.40,310.39 L406.90,310.48 L407.40,310.56 L407.90,310.65 L408.40,310.74 L408.90,310.82 L409.40,310.90 L409.90,310.98 L410.40,311.06 L410.90,311.14 L411.40,311.22 L411.90,311.29 L412.40,311.36 L412.90,311.44 L413.40,311.51 L413.90,311.58 L414.40,311.65 L414.90,311.72 L415.40,311.79 L415.90,311.86 L416.40,311.93 L416.90,311.99 L417.40,312.06 L417.90,312.13 L418.40,312.19 L418.90,312.26 L419.40,312.32 L419.90,312.39 L420.40,312.45 L420.90,312.52 L421.40,312.58 L421.90,312.64 L422.40,312.71 L422.90,312.77 L423.40,312.83 L423.90,312.89 L424.40,312.95 L424.90,313.01 L425.40,313.07 L425.90,313.13 L426.40,313.19 L426.90,313.25 L427.40,313.31 L427.90,313.37 L428.40,313.42 L428.90,313.48 L429.40,313.53 L429.90,313.59 L430.40,313.64 L430.90,313.70 L431.40,313.75 L431.90,313.81 L432.40,313.86 L432.90,313.92 L433.40,313.97 L433.90,314.03 L434.40,314.08 L434.90,314.13 L435.40,314.18 L435.90,314.23 L436.40,314.28 L436.90,314.33 L437.40,314.38 L437.90,314.43 L438.40,314.47 L438.90,314.51 L439.40,314.55 L439.90,314.59 L440.40,314.63 L440.90,314.67 L441.40,314.70 L441.90,314.73 L442.40,314.77 L442.90,314.80 L443.40,314.83 L443.90,314.86 L444.40,314.89 L444.90,314.91 L445.40,314.94 L445.90,314.97 L446.40,315.00 L446.90,315.03 L447.40,315.05 L447.90,315.08 L448.40,315.11 L448.90,315.14 L449.40,315.17 L449.90,315.19 L450.40,315.22 L450.90,315.25 L451.40,315.28 L451.90,315.31 L452.40,315.34 L452.90,315.37 L453.40,315.40 L453.90,315.43 L454.40,315.46 L454.90,315.49 L455.40,315.52 L455.90,315.55 L456.40,315.58 L456.90,315.61 L457.40,315.64 L457.90,315.67 L458.40,315.70 L458.90,315.73 L459.40,315.76 L459.90,315.79 L460.40,315.81 L460.90,315.84 L461.40,315.87 L461.90,315.89 L462.40,315.92 L462.90,315.95 L463.40,315.97 L463.90,316.00 L464.40,316.02 L464.90,316.04 L465.40,316.07 L465.90,316.09 L466.40,316.11 L466.90,316.14 L467.40,316.16 L467.90,316.18 L468.40,316.21 L468.90,316.23 L469.40,316.25 L469.90,316.28 L470.40,316.30 L470.90,316.32 L471.40,316.35 L471.90,316.37 L472.40,316.39 L472.90,316.41 L473.40,316.44 L473.90,316.46 L474.40,316.48 L474.90,316.50 L475.40,316.52 L475.90,316.55 L476.40,316.57 L476.90,316.59 L477.40,316.61 L477.90,316.63 L478.40,316.65 L478.90,316.67 L479.40,316.70 L479.90,316.72 L480.40,316.74 L480.90,316.76 L481.40,316.78 L481.90,316.80 L482.40,316.82 L482.90,316.84 L483.40,316.86 L483.90,316.88 L484.40,316.90 L484.90,316.92 L485.40,316.94 L485.90,316.95 L486.40,316.97 L486.90,316.99 L487.40,317.01 L487.90,317.03 L488.40,317.05 L488.90,317.06 L489.40,317.08 L489.90,317.10 L490.40,317.12 L490.90,317.13 L491.40,317.15 L491.90,317.17 L492.40,317.18 L492.90,317.20 L493.40,317.21 L493.90,317.23 L494.40,317.24 L494.90,317.26 L495.40,317.27 L495.90,317.29 L496.40,317.30 L496.90,317.32 L497.40,317.33 L497.90,317.35 L498.40,317.36 L498.90,317.37 L499.40,317.38 L499.90,317.40 L500.40,317.41 L500.90,317.42 L501.40,317.43 L501.90,317.45 L502.40,317.46 L502.90,317.47 L503.40,317.48 L503.90,317.50 L504.40,317.51 L504.90,317.52 L505.40,317.53 L505.90,317.54 L506.40,317.55 L506.90,317.57 L507.40,317.58 L507.90,317.59 L508.40,317.60 L508.90,317.61 L509.40,317.62 L509.90,317.63 L510.40,317.64 L510.90,317.66 L511.40,317.67 L511.90,317.68 L512.40,317.69 L512.90,317.70 L513.40,317.71 L513.90,317.72 L514.40,317.73 L514.90,317.74 L515.40,317.75 L515.90,317.76 L516.40,317.77 L516.90,317.78 L517.40,317.79 L517.90,317.80 L518.40,317.81 L518.90,317.81 L519.40,317.82 L519.90,317.83 L520.40,317.84 L520.90,317.85 L521.40,317.86 L521.90,317.87 L522.40,317.87 L522.90,317.88 L523.40,317.89 L523.90,317.90 L524.40,317.90 L524.90,317.91 L525.40,317.92 L525.90,317.92 L526.40,317.93 L526.90,317.94 L527.40,317.94 L527.90,317.95 L528.40,317.96 L528.90,317.96 L529.40,317.97 L529.90,317.97 L530.40,317.98 L530.90,317.98 L531.40,317.99 L531.90,317.99 L532.40,318.00 L532.60,318.00" stroke="#ff1408"/>
</g>
<rect x="42.4" y="9.7" width="490.20" height="324.60" fill="none" stroke="#000" stroke-width="1.4"/>
<line x1="42.40" y1="334.3" x2="42.40" y2="339.8" stroke="#000" stroke-width="1.4"/>
<line x1="123.50" y1="334.3" x2="123.50" y2="339.8" stroke="#000" stroke-width="1.15"/>
<line x1="205.60" y1="334.3" x2="205.60" y2="339.8" stroke="#000" stroke-width="1.15"/>
<line x1="287.00" y1="334.3" x2="287.00" y2="339.8" stroke="#000" stroke-width="1.15"/>
<line x1="369.30" y1="334.3" x2="369.30" y2="339.8" stroke="#000" stroke-width="1.15"/>
<line x1="450.30" y1="334.3" x2="450.30" y2="339.8" stroke="#000" stroke-width="1.15"/>
<line x1="532.60" y1="334.3" x2="532.60" y2="339.8" stroke="#000" stroke-width="1.4"/>
<g font-family="Liberation Sans, sans-serif" fill="#111" stroke="#111" stroke-width="0.22" stroke-linejoin="round" style="text-rendering:geometricPrecision;filter:grayscale(1)">
<text x="40.5" y="359.4" font-size="12.9" stroke-width="0.12" textLength="22" lengthAdjust="spacingAndGlyphs">200</text>
<text x="120.9" y="359.4" font-size="12.9" stroke-width="0.12" textLength="22" lengthAdjust="spacingAndGlyphs">300</text>
<text x="201.3" y="359.4" font-size="12.9" stroke-width="0.12" textLength="22" lengthAdjust="spacingAndGlyphs">400</text>
<text x="281.7" y="359.4" font-size="12.9" stroke-width="0.12" textLength="22" lengthAdjust="spacingAndGlyphs">500</text>
<text x="362.1" y="359.4" font-size="12.9" stroke-width="0.12" textLength="22" lengthAdjust="spacingAndGlyphs">600</text>
<text x="442.5" y="359.4" font-size="12.9" stroke-width="0.12" textLength="22" lengthAdjust="spacingAndGlyphs">700</text>
<text x="522.9" y="359.4" font-size="12.9" stroke-width="0.12" textLength="22" lengthAdjust="spacingAndGlyphs">800</text>
<text y="389.6" font-size="15.8"><tspan x="221.8" textLength="15.2" lengthAdjust="spacingAndGlyphs">W</tspan><tspan x="236.9" textLength="80.6" lengthAdjust="spacingAndGlyphs">avelength</tspan><tspan x="323.3" textLength="38.4" lengthAdjust="spacingAndGlyphs">(nm)</tspan></text>
<text transform="translate(16.5,201.75) rotate(-90)" font-size="16" stroke-width="0.1" y="0"><tspan x="-0.9" textLength="30.6" lengthAdjust="spacingAndGlyphs">Inte</tspan><tspan x="29.3" textLength="22.3" lengthAdjust="spacingAndGlyphs">nsi</tspan><tspan x="51.5" textLength="15.9" lengthAdjust="spacingAndGlyphs">ty</tspan></text>
<text x="451.7" y="43.0" font-size="15.7" textLength="54" lengthAdjust="spacingAndGlyphs">M062x</text>
<text x="451.7" y="63.0" font-size="15.7" textLength="44" lengthAdjust="spacingAndGlyphs">M062</text>
<text x="451.7" y="83.3" font-size="15.7" textLength="40.6" lengthAdjust="spacingAndGlyphs">PBE0</text>
</g>
<line x1="427.4" y1="35.7" x2="442.8" y2="35.7" stroke="#000" stroke-width="2.1"/>
<line x1="427.4" y1="56.4" x2="442.8" y2="56.4" stroke="#1428ff" stroke-width="2.1"/>
<line x1="427.4" y1="76.9" x2="442.8" y2="76.9" stroke="#ff1408" stroke-width="2.1"/>
</svg>
</body></html>
